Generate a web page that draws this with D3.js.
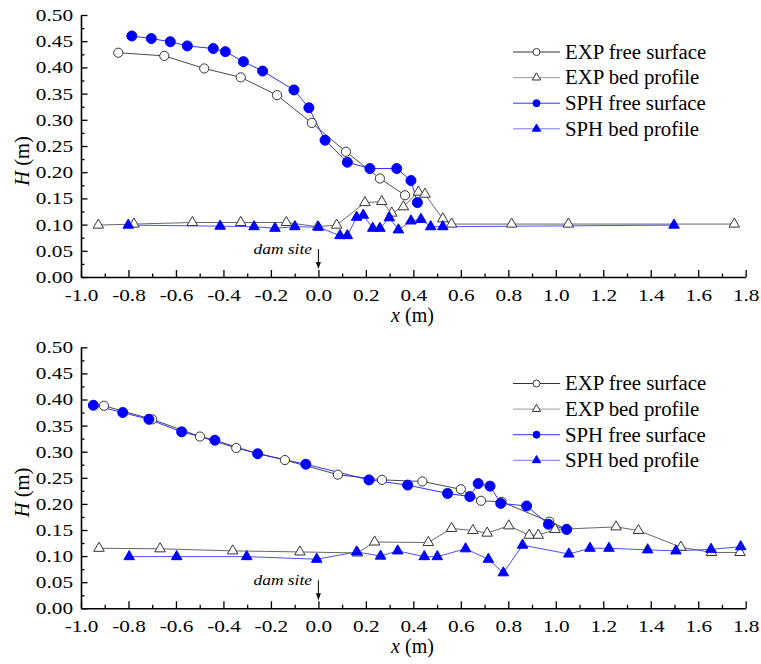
<!DOCTYPE html>
<html>
<head>
<meta charset="utf-8">
<script src="https://cdn.jsdelivr.net/npm/d3@7"></script>
<style>
  body { margin: 0; background: #fff; }
</style>
</head>
<body>
<div id="chart"></div>
<script>
// tick values
var xMajor = [-1.0, -0.8, -0.6, -0.4, -0.2, 0.0, 0.2, 0.4, 0.6, 0.8, 1.0, 1.2, 1.4, 1.6, 1.8];
var xMinor = [-0.9, -0.7, -0.5, -0.3, -0.1, 0.1, 0.3, 0.5, 0.7, 0.9, 1.1, 1.3, 1.5, 1.7];
var yMajor = [0, 0.05, 0.10, 0.15, 0.20, 0.25, 0.30, 0.35, 0.40, 0.45, 0.50];
var yMinor = [0.025, 0.075, 0.125, 0.175, 0.225, 0.275, 0.325, 0.375, 0.425, 0.475];

var seriesNames = ["EXP free surface", "EXP bed profile", "SPH free surface", "SPH bed profile"];

// top panel  [x (m), H (m)]
var topExpSurface = [[-0.843,0.428],[-0.649,0.422],[-0.481,0.398],[-0.327,0.381],[-0.174,0.347],
  [-0.028,0.294],[0.116,0.239],[0.259,0.188],[0.365,0.156]];
var topExpBed = [[-0.927,0.099],[-0.777,0.101],[-0.531,0.104],[-0.327,0.104],[-0.135,0.104],
  [-0.003,0.096],[0.077,0.099],[0.196,0.142],[0.267,0.144],[0.309,0.122],[0.358,0.134],
  [0.421,0.162],[0.449,0.158],[0.524,0.111],[0.561,0.101],[0.814,0.101],[1.053,0.101],[1.752,0.101]];
var topSphSurface = [[-0.786,0.460],[-0.704,0.455],[-0.624,0.449],[-0.552,0.441],[-0.443,0.436],
  [-0.392,0.430],[-0.316,0.411],[-0.235,0.393],[-0.103,0.357],[-0.040,0.323],[0.028,0.261],
  [0.122,0.219],[0.217,0.207],[0.330,0.207],[0.390,0.184],[0.417,0.142]];
var topSphBed = [[-0.801,0.099],[-0.414,0.097],[-0.271,0.096],[-0.183,0.093],[-0.099,0.096],
  [0.0,0.095],[0.091,0.079],[0.122,0.079],[0.161,0.114],[0.189,0.118],[0.229,0.093],[0.259,0.093],
  [0.299,0.113],[0.337,0.090],[0.390,0.107],[0.432,0.110],[0.473,0.096],[0.524,0.096],[1.498,0.099]];

// bottom panel
var botExpSurface = [[-0.903,0.388],[-0.700,0.362],[-0.499,0.329],[-0.346,0.307],[-0.141,0.284],
  [0.082,0.256],[0.268,0.246],[0.438,0.243],[0.600,0.228],[0.685,0.206],[0.772,0.204],
  [0.973,0.166],[1.046,0.152]];
var botExpBed = [[-0.924,0.115],[-0.667,0.114],[-0.361,0.110],[-0.078,0.108],[0.165,0.106],
  [0.237,0.127],[0.463,0.126],[0.561,0.153],[0.651,0.149],[0.711,0.144],[0.802,0.158],
  [0.888,0.140],[0.926,0.140],[0.997,0.151],[1.254,0.156],[1.348,0.149],[1.527,0.117],
  [1.656,0.107],[1.776,0.107]];
var botSphSurface = [[-0.948,0.389],[-0.824,0.375],[-0.714,0.362],[-0.576,0.338],[-0.436,0.322],
  [-0.256,0.296],[-0.053,0.276],[0.213,0.246],[0.376,0.236],[0.544,0.220],[0.638,0.214],
  [0.673,0.239],[0.723,0.234],[0.768,0.201],[0.877,0.196],[0.969,0.161],[1.046,0.151]];
var botSphBed = [[-0.797,0.099],[-0.597,0.099],[-0.302,0.099],[-0.007,0.094],[0.161,0.108],
  [0.262,0.100],[0.334,0.110],[0.446,0.099],[0.501,0.099],[0.620,0.114],[0.716,0.094],
  [0.779,0.068],[0.860,0.121],[1.055,0.104],[1.144,0.115],[1.224,0.115],[1.387,0.112],
  [1.506,0.110],[1.654,0.113],[1.779,0.118]];

var FONT = "'Liberation Serif', 'Times New Roman', serif";
var width = 761, height = 664;
var svg = d3.select("#chart").append("svg")
    .attr("width", width)
    .attr("height", height);

var x = d3.scaleLinear().domain([-1.0, 1.8]).range([81, 745.7]);

var styles = [
  {stroke: "#333", legendStroke: "#333", symbol: "circle", fill: "#fff", mstroke: "#333"},
  {stroke: "#555", legendStroke: "#999", symbol: "triangle", fill: "#fff", mstroke: "#333"},
  {stroke: "#1a1aff", legendStroke: "#3333ff", symbol: "circle", fill: "#0000ff", mstroke: "#0000ff"},
  {stroke: "#3a3aff", legendStroke: "#7777ff", symbol: "triangle", fill: "#0000ff", mstroke: "#0000ff"}
];

var tickFont = 17, tickScale = 1.25;

function drawMarker(g, st, px, py, big) {
  if (st.symbol === "circle") {
    g.append("circle")
      .attr("cx", px).attr("cy", py)
      .attr("r", big ? (st.fill === "#fff" ? 4.6 : 5) : 3.5)
      .attr("fill", st.fill)
      .attr("stroke", st.mstroke)
      .attr("stroke-width", 1);
  } else {
    g.append("path")
      .attr("d", d3.symbol(d3.symbolTriangle, big ? 48 : 30)())
      .attr("transform", "translate(" + px + "," + py + ")")
      .attr("fill", st.fill)
      .attr("stroke", st.mstroke)
      .attr("stroke-width", 1);
  }
}

function panel(opt) {
  var y = d3.scaleLinear().domain([0, 0.5]).range([opt.y0, opt.y1]);
  var g = svg.append("g");

  // minor ticks
  g.append("g")
    .attr("transform", "translate(0," + opt.y0 + ")")
    .call(d3.axisBottom(x).tickValues(xMinor).tickSize(-3.5).tickFormat(""))
    .call(function(a) { a.select(".domain").remove(); a.selectAll("line").attr("stroke-width", 1.3); });
  g.append("g")
    .attr("transform", "translate(" + x.range()[0] + ",0)")
    .call(d3.axisLeft(y).tickValues(yMinor).tickSize(-3.5).tickFormat(""))
    .call(function(a) { a.select(".domain").remove(); a.selectAll("line").attr("stroke-width", 1.3); });

  // major axes
  var xa = g.append("g")
    .attr("transform", "translate(0," + opt.y0 + ")")
    .call(d3.axisBottom(x).tickValues(xMajor).tickSize(-7).tickSizeOuter(0).tickPadding(12)
      .tickFormat(function(d) { return d.toFixed(1); }));
  var ya = g.append("g")
    .attr("transform", "translate(" + x.range()[0] + ",0)")
    .call(d3.axisLeft(y).tickValues(yMajor).tickSize(-6.5).tickSizeOuter(0).tickPadding(8)
      .tickFormat(function(d) { return d.toFixed(2); }));
  [xa, ya].forEach(function(a) {
    a.attr("font-family", null);
    a.select(".domain").attr("stroke-width", 1.6);
    a.selectAll("line").attr("stroke-width", 1.3);
    a.selectAll("text").attr("font-size", tickFont).style("font-family", FONT);
  });
  xa.selectAll("text").attr("transform", "scale(" + tickScale + ",1)");
  ya.selectAll("text").attr("x", -8 / tickScale).attr("transform", "scale(" + tickScale + ",1)");

  // axis titles
  var ht = g.append("text")
    .attr("transform", "translate(29," + opt.hMid + ") rotate(-90)")
    .attr("text-anchor", "middle")
    .attr("font-size", 20.5)
    .style("font-family", FONT);
  ht.append("tspan").attr("font-style", "italic").text("H");
  ht.append("tspan").text(" (m)");
  var xt = g.append("text")
    .attr("x", 412.5).attr("y", opt.y0 + 44.5)
    .attr("text-anchor", "middle")
    .attr("font-size", 20)
    .style("font-family", FONT);
  xt.append("tspan").attr("font-style", "italic").text("x");
  xt.append("tspan").text(" (m)");

  // dam site
  g.append("text")
    .attr("transform", "translate(312," + (opt.y0 - 23) + ") scale(1.2,1)")
    .attr("text-anchor", "end")
    .attr("font-style", "italic")
    .attr("font-size", 14.5)
    .style("font-family", FONT)
    .text("dam site");
  g.append("line")
    .attr("x1", x(0)).attr("x2", x(0))
    .attr("y1", opt.y0 - 28).attr("y2", opt.y0 - 14)
    .attr("stroke", "#000").attr("stroke-width", 1);
  g.append("path")
    .attr("d", "M" + (x(0) - 2.5) + "," + (opt.y0 - 15) + "L" + (x(0) + 2.5) + "," + (opt.y0 - 15) +
      "L" + x(0) + "," + (opt.y0 - 8) + "Z")
    .attr("fill", "#000");

  // series
  var line = d3.line().x(function(d) { return x(d[0]); }).y(function(d) { return y(d[1]); });
  opt.series.forEach(function(s, i) {
    g.append("path")
      .datum(s)
      .attr("d", line)
      .attr("fill", "none")
      .attr("stroke", styles[i].stroke)
      .attr("stroke-width", 0.9);
  });
  opt.series.forEach(function(s, i) {
    var mg = g.append("g");
    s.forEach(function(d) { drawMarker(mg, styles[i], x(d[0]), y(d[1]), true); });
  });

  // legend
  seriesNames.forEach(function(name, i) {
    var ly = opt.legendY + i * 25.6;
    g.append("line")
      .attr("x1", 513).attr("x2", 560).attr("y1", ly).attr("y2", ly)
      .attr("stroke", styles[i].legendStroke).attr("stroke-width", 1);
    drawMarker(g, styles[i], 536.5, ly, false);
    g.append("text")
      .attr("transform", "translate(565," + (ly + 6.8) + ") scale(1.04,1)")
      .attr("font-size", 20)
      .style("font-family", FONT)
      .text(name);
  });
}

panel({y0: 277, y1: 15, hMid: 161, legendY: 52,
  series: [topExpSurface, topExpBed, topSphSurface, topSphBed]});
panel({y0: 608.3, y1: 347.3, hMid: 492.5, legendY: 383.5,
  series: [botExpSurface, botExpBed, botSphSurface, botSphBed]});
</script>
</body>
</html>
